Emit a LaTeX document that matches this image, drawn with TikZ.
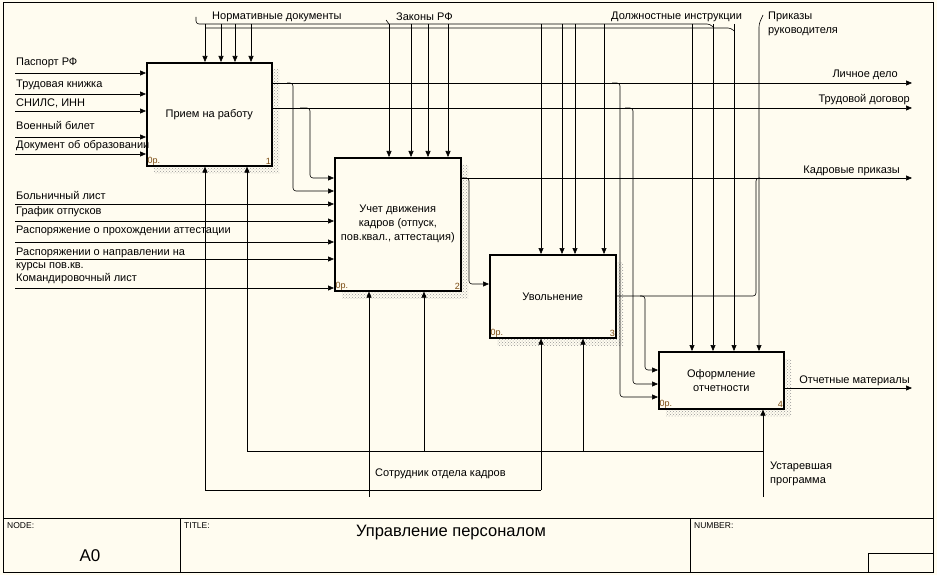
\documentclass[tikz,border=0pt]{standalone}
\usepackage{fontspec}
\setmainfont{Liberation Sans}
\usetikzlibrary{arrows.meta,patterns}
\definecolor{bg}{HTML}{FFFCF0}
\definecolor{numc}{HTML}{7A4A10}
\begin{document}
\begin{tikzpicture}[x=1pt,y=-1pt,
  box/.style={draw,line width=1.6pt,fill=bg,anchor=north west,inner sep=0pt,align=center,font=\fontsize{11}{14}\selectfont},
  shadow/.style={pattern=crosshatch dots,pattern color=gray!80,draw=none},
  ar/.style={line width=0.6pt,rounded corners=3pt,-{Triangle[length=6pt,width=5pt]}},
  ln/.style={line width=0.6pt,rounded corners=3pt},
  lab/.style={font=\fontsize{11}{13}\selectfont,inner sep=0pt,anchor=west,align=left},
  sm/.style={font=\fontsize{9}{10}\selectfont,inner sep=1.5pt},
  tb/.style={font=\fontsize{8.5}{9}\selectfont,inner sep=1pt}]
\useasboundingbox (0,0) rectangle (937,575);
\fill[bg] (0,0) rectangle (937,575);
\draw[line width=0.8pt] (3,2) rectangle (933,572);
\draw[line width=0.8pt] (3,518) -- (933,518) (180,518) -- (180,572) (690,518) -- (690,572) (868,572) -- (868,553) -- (933,553);
\node[tb,anchor=north west] (tn) at (6,521) {NODE:};
\node[tb,anchor=north west] (tt) at (183,521) {TITLE:};
\node[tb,anchor=north west] (tm) at (693,521) {NUMBER:};
\node[font=\fontsize{17}{18}\selectfont] (a0) at (90,556) {A0};
\node[font=\fontsize{16.5}{18}\selectfont] (ttl) at (451,533) {Управление персоналом};
% shadows
\fill[shadow] (154,70) rectangle (279,173);
\fill[shadow] (342,165) rectangle (468,298);
\fill[shadow] (497,262) rectangle (623,345);
\fill[shadow] (666,359) rectangle (791,416);
% boxes
\node[box,minimum width=125pt,minimum height=103pt] (b1) at (146,62) {Прием на работу};
\node[box,minimum width=126pt,minimum height=133pt] (b2) at (334,157) {Учет движения\\кадров (отпуск,\\пов.квал., аттестация)};
\node[box,minimum width=126pt,minimum height=83pt] (b3) at (489,254) {Увольнение};
\node[box,minimum width=125pt,minimum height=57pt] (b4) at (658,351) {Оформление\\отчетности};
\foreach \b/\n in {b1/1,b2/2,b3/3,b4/4}{
  \node[sm,anchor=south west,text=numc] at (\b.south west) {0р.};
  \node[sm,anchor=south east,text=numc] at (\b.south east) {\n};}
% inputs B1
\foreach \y/\ly/\t in {73/63/Паспорт РФ,94/85/Трудовая книжка,111/103/СНИЛС{,} ИНН,137/125/Военный билет,154/146/Документ об образовании}{
  \draw[ar] (15,\y) -- (b1.west |- 0,\y);
  \node[lab] at (16,\ly) {\t};}
% inputs B2
\foreach \y/\ly/\t in {204/195/Больничный лист,221/212/График отпусков,242/231/Распоряжение о прохождении аттестации,259/259/{Распоряжении о направлении на\\курсы пов.кв.},288/279/Командировочный лист}{
  \draw[ar] (15,\y) -- (b2.west |- 0,\y);
  \node[lab] at (16,\ly) {\t};}
% outputs
\coordinate (o1) at (912,83); \coordinate (o2) at (912,108);
\coordinate (o3) at (912,178); \coordinate (o4) at (912,388);
\draw[ar] (b1.east |- 0,83) -- (o1); \node[lab,anchor=east] at (898,75) {Личное дело};
\draw[ar] (b1.east |- 0,108) -- (o2); \node[lab,anchor=east] at (910,100) {Трудовой договор};
\draw[ar] (b2.east |- 0,178) -- (o3); \node[lab,anchor=east] at (900,171) {Кадровые приказы};
\draw[ar] (b4.east |- 0,388) -- (o4); \node[lab,anchor=east] at (910,381) {Отчетные материалы};
\draw[ar] (287,83) -- (293,83) -- (293,191) -- (b2.west |- 0,191);
\draw[ar] (300,108) -- (310,108) -- (310,178) -- (b2.west |- 0,178);
\draw[ar] (612,83) -- (620,83) -- (620,397) -- (b4.west |- 0,397);
\draw[ar] (625,108) -- (633,108) -- (633,384) -- (b4.west |- 0,384);
\draw[ar] (462,178) -- (469,178) -- (469,284) -- (b3.west |- 0,284);
\draw[ln] (b3.east |- 0,296) -- (756,296) -- (756,178) -- (760,178);
\draw[ar] (640,296) -- (645,296) -- (645,370) -- (b4.west |- 0,370);
% controls
\node[lab] (cn) at (212,17) {Нормативные документы};
\node[lab] (cz) at (396,17) {Законы РФ};
\node[lab] (cd) at (611,17) {Должностные инструкции};
\node[lab] (cp) at (768,24) {Приказы\\[1pt]руководителя};
\draw[ln] (196,17) -- (196,24) -- (710,24) -- (713,27);
\draw[ln] (205,28) -- (731,28) -- (734,31);
\draw[ln] (386,20) -- (389,24);
\foreach \x in {205,221,235,251}{\draw[ar] (\x,24) -- (\x,0 |- b1.north);}
\foreach \x in {389,411,428,448}{\draw[ar] (\x,24) -- (\x,0 |- b2.north);}
\foreach \x in {541,562,575,604}{\draw[ar] (\x,24) -- (\x,0 |- b3.north);}
\foreach \x in {692,713,734}{\draw[ar] (\x,24) -- (\x,0 |- b4.north);}
\draw[ar] (763,15) -- (759,24) -- (759,0 |- b4.north);
% mechanisms
\draw[ln] (247,451) -- (763,451);
\draw[ar] (247,451) -- (247,0 |- b1.south);
\draw[ar] (424,451) -- (424,0 |- b2.south);
\draw[ar] (583,451) -- (583,0 |- b3.south);
\draw[ar] (763,497) -- (763,0 |- b4.south);
\draw[ln] (205,490) -- (541,490);
\draw[ar] (205,490) -- (205,0 |- b1.south);
\draw[ar] (541,490) -- (541,0 |- b3.south);
\draw[ar] (369,497) -- (369,0 |- b2.south);
\node[lab] (ms) at (375,474) {Сотрудник отдела кадров};
\node[lab] (mu) at (770,474) {Устаревшая\\[1pt]программа};
\end{tikzpicture}
\end{document}
